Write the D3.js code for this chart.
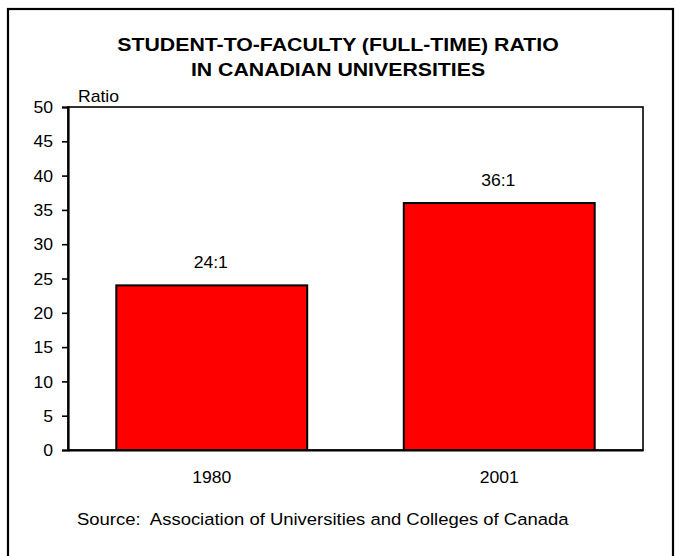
<!DOCTYPE html>
<html>
<head>
<meta charset="utf-8">
<script src="https://cdn.jsdelivr.net/npm/d3@7"></script>
<style>
  html, body { margin: 0; padding: 0; background: #fff; }
  text { font-family: "Liberation Sans", Arial, sans-serif; fill: #000; white-space: pre; }
</style>
</head>
<body>
<svg id="chart" width="683" height="556"></svg>
<script>
const categories = ["1980", "2001"];
const values = [24, 36];
const valueLabels = ["24:1", "36:1"];
const yTicks = [0, 5, 10, 15, 20, 25, 30, 35, 40, 45, 50];
const titleLines = ["STUDENT-TO-FACULTY (FULL-TIME) RATIO", "IN CANADIAN UNIVERSITIES"];
const yAxisTitle = "Ratio";
const sourceText = "Source:  Association of Universities and Colleges of Canada";

const svg = d3.select("#chart");
const SXT = 1.12; // horizontal stretch, title
const SX = 1.1;   // horizontal stretch, body text

// outer frame
svg.append("rect").attr("x", 8).attr("y", 9).attr("width", 665).attr("height", 560)
  .attr("fill", "none").attr("stroke", "#000").attr("stroke-width", 2.2);

const plot = { left: 68, right: 643, top: 107, bottom: 450 };

const x = d3.scaleBand().domain(categories).range([plot.left, plot.right])
  .paddingInner(0.336).paddingOuter(0.168);
const y = d3.scaleLinear().domain([0, 50]).range([plot.bottom, plot.top]);

function stretchedText(g, tx, ty, str, size, weight, anchor, sx) {
  return g.append("text")
    .attr("transform", `translate(${tx},${ty}) scale(${sx || SX},1)`)
    .attr("text-anchor", anchor || "middle")
    .attr("xml:space", "preserve")
    .style("font-size", size + "px")
    .style("font-weight", weight || "normal")
    .text(str);
}

// title
titleLines.forEach((t, i) => {
  stretchedText(svg, 338, 51 + i * 25, t, 19, "bold", "middle", SXT);
});

// plot frame
svg.append("rect").attr("x", plot.left).attr("y", plot.top)
  .attr("width", plot.right - plot.left).attr("height", plot.bottom - plot.top)
  .attr("fill", "none").attr("stroke", "#000").attr("stroke-width", 1.6);

// bars
svg.append("g").selectAll("rect").data(categories).join("rect")
  .attr("x", d => x(d))
  .attr("y", (d, i) => y(values[i]))
  .attr("width", x.bandwidth())
  .attr("height", (d, i) => y(0) - y(values[i]))
  .attr("fill", "#ff0000").attr("stroke", "#000").attr("stroke-width", 2);

// value labels
categories.forEach((c, i) => {
  stretchedText(svg, x(c) + x.bandwidth() / 2 - 1, y(values[i]) - 17, valueLabels[i], 16);
});

// y axis
const yAxis = svg.append("g").attr("transform", `translate(${plot.left},0)`)
  .call(d3.axisLeft(y).tickValues(yTicks).tickSize(6).tickPadding(8).tickFormat(d3.format("d")));
yAxis.select(".domain").attr("stroke", "#000").attr("stroke-width", 2.2);
yAxis.selectAll(".tick line").attr("stroke", "#000").attr("stroke-width", 1.6);
yAxis.selectAll(".tick text")
  .style("font-family", '"Liberation Sans", Arial, sans-serif')
  .style("font-size", "16px").attr("fill", "#000")
  .attr("x", null).attr("dy", "0.35em")
  .attr("transform", `translate(-15,0) scale(${SX},1)`);

// x axis (labels only)
const xAxis = svg.append("g").attr("transform", `translate(0,${plot.bottom})`)
  .call(d3.axisBottom(x).tickSize(0).tickPadding(0));
xAxis.select(".domain").attr("stroke", "#000").attr("stroke-width", 2);
xAxis.selectAll(".tick text")
  .style("font-family", '"Liberation Sans", Arial, sans-serif')
  .style("font-size", "16px").attr("fill", "#000")
  .attr("y", null).attr("dy", null)
  .attr("transform", `translate(0,33) scale(${SX},1)`);

// axis title
stretchedText(svg, 78, 102, yAxisTitle, 16, "normal", "start");

// source
stretchedText(svg, 77, 525, sourceText, 16.8, "normal", "start");
</script>
</body>
</html>
